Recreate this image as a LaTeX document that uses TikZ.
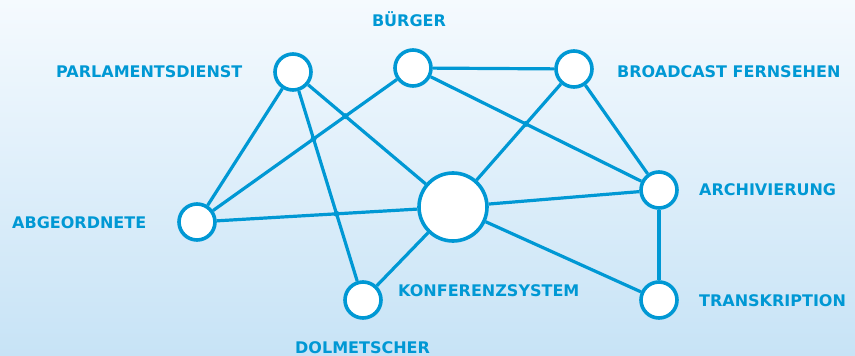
\documentclass[tikz,border=0pt]{standalone}
\usepackage{fontspec}
\setmainfont{DejaVu Sans}
\usepackage{xcolor}
\usepackage{tikz}
\usetikzlibrary{intersections}

\definecolor{netblue}{RGB}{0,152,212}
\definecolor{bgtop}{RGB}{245,250,254}
\definecolor{bgbot}{RGB}{199,227,246}

\tikzset{
    station/.style={circle, draw=netblue, fill=white, line width=3.6pt, minimum size=#1, inner sep=0pt},
    station/.default=36pt,
    tag/.style={text=netblue, font=\bfseries\fontsize{16}{18}\selectfont, inner sep=0pt, anchor=base west},
    link/.style={draw=netblue, line width=3.2pt},
    knot/.style={fill=netblue}
}

\begin{document}
\begin{tikzpicture}[x=1pt, y=-1pt]
    \shade[top color=bgtop, bottom color=bgbot] (0,0) rectangle (855,356);
    \useasboundingbox (0,0) rectangle (855,356);

    \node[station] (parl) at (293,72) {};
    \node[station] (buerger) at (413,68) {};
    \node[station] (broad) at (574,69) {};
    \node[station=68pt] (konf) at (453,207) {};
    \node[station] (abg) at (197,222) {};
    \node[station] (arch) at (659,190) {};
    \node[station] (trans) at (659,300) {};
    \node[station] (dolm) at (363,300) {};

    \draw[link] (parl) -- (abg);
    \draw[link, name path=pd] (parl) -- (dolm);
    \draw[link, name path=pk] (parl) -- (konf);
    \draw[link, name path=ba] (buerger) -- (abg);
    \draw[link] (buerger) -- (broad);
    \draw[link, name path=bar] (buerger) -- (arch);
    \draw[link] (broad) -- (arch);
    \draw[link, name path=bk] (broad) -- (konf);
    \draw[link, name path=ak] (abg) -- (konf);
    \draw[link] (konf) -- (arch);
    \draw[link] (konf) -- (trans);
    \draw[link] (konf) -- (dolm);
    \draw[link] (arch) -- (trans);

    % Kreuzungspunkte
    \fill[knot, name intersections={of=pk and ba}] (intersection-1) circle (3pt);
    \fill[knot, name intersections={of=pd and ba}] (intersection-1) circle (3pt);
    \fill[knot, name intersections={of=pd and ak}] (intersection-1) circle (3pt);
    \fill[knot, name intersections={of=bar and bk}] (intersection-1) circle (3pt);

    \node[tag] (parltext) at (56,77) {PARLAMENTSDIENST};
    \node[tag, anchor=base] (buergertext) at (409,27) {BÜRGER};
    \node[tag] (broadtext) at (617,77) {BROADCAST FERNSEHEN};
    \node[tag] (archtext) at (699,195) {ARCHIVIERUNG};
    \node[tag] (transtext) at (699,306) {TRANSKRIPTION};
    \node[tag] (abgtext) at (12,228) {ABGEORDNETE};
    \node[tag] (konftext) at (398,296) {KONFERENZSYSTEM};
    \node[tag] (dolmtext) at (295,353.5) {DOLMETSCHER};

\end{tikzpicture}
\end{document}
